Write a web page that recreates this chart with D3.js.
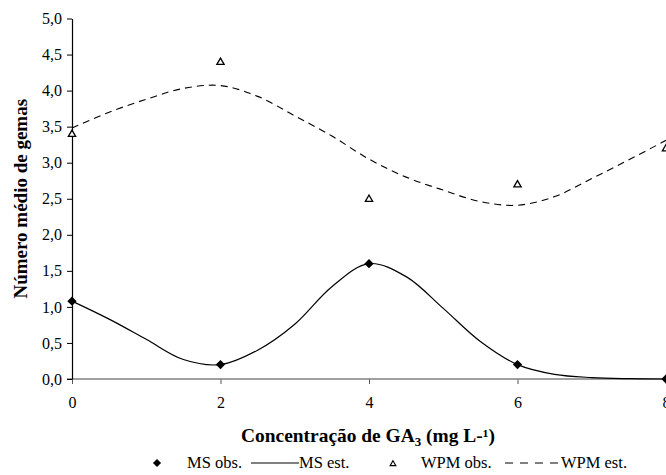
<!DOCTYPE html>
<html>
<head>
<meta charset="utf-8">
<script src="https://cdn.jsdelivr.net/npm/d3@7"></script>
<style>
  html, body { margin: 0; padding: 0; background: #fff; }
  svg text { font-family: "Liberation Serif", "Times New Roman", Times, serif; }
</style>
</head>
<body>
<svg id="chart" width="666" height="475"></svg>
<script>
// ---- data ----
const concentrations = [0, 2, 4, 6, 8];
const msObs = [1.08, 0.2, 1.6, 0.2, 0.0];
const wpmObs = [3.4, 4.4, 2.5, 2.7, 3.2];
const estX = [0, 0.5, 1, 1.5, 2, 2.5, 3, 3.5, 4, 4.5, 5, 5.5, 6, 6.5, 7, 7.5, 8];
const msEst = [1.08, 0.83, 0.55, 0.27, 0.2, 0.40, 0.76, 1.28, 1.6, 1.42, 0.98, 0.52, 0.2, 0.065, 0.02, 0.005, 0.0];
const wpmEst = [3.48, 3.70, 3.88, 4.03, 4.07, 3.92, 3.65, 3.37, 3.05, 2.80, 2.62, 2.46, 2.41, 2.53, 2.78, 3.04, 3.31];
const yTicks = [0, 0.5, 1, 1.5, 2, 2.5, 3, 3.5, 4, 4.5, 5];
const xTicks = [0, 2, 4, 6, 8];
const legendLabels = ["MS obs.", "MS est.", "WPM obs.", "WPM est."];

// ---- layout ----
const FONT = "'Liberation Serif', 'Times New Roman', Times, serif";
const svg = d3.select("#chart");
const x = d3.scaleLinear().domain([0, 8]).range([72, 666]);
const y = d3.scaleLinear().domain([0, 5]).range([379, 18.5]);
const fmt = d => d3.format(".1f")(d).replace(".", ",");

// x axis (gray line)
const xAxis = svg.append("g").attr("transform", `translate(0,${y(0)})`)
  .call(d3.axisBottom(x).tickValues(xTicks).tickSize(5).tickPadding(13).tickFormat(d3.format("d")));
xAxis.attr("font-family", null).attr("font-size", null);
xAxis.select(".domain").remove();
xAxis.append("line").attr("x1", 67).attr("x2", 666).attr("y1", 0).attr("y2", 0)
  .attr("stroke", "#808080").attr("stroke-width", 1.3);
xAxis.selectAll(".tick line").attr("stroke", "#555").attr("stroke-width", 1);
xAxis.selectAll(".tick text").attr("fill", "#000").style("font-size", "16px").style("font-family", FONT);

// y axis
const yAxis = svg.append("g").attr("transform", `translate(${x(0)},0)`)
  .call(d3.axisLeft(y).tickValues(yTicks).tickSize(5).tickPadding(5).tickSizeOuter(0).tickFormat(fmt));
yAxis.attr("font-family", null).attr("font-size", null);
yAxis.select(".domain").attr("stroke", "#000").attr("stroke-width", 1.2);
yAxis.selectAll(".tick line").attr("stroke", "#000");
yAxis.selectAll(".tick text").attr("fill", "#000").style("font-size", "16px").style("font-family", FONT);

// curves
const estData = estX.map((v, i) => ({x: v, ms: msEst[i], wpm: wpmEst[i]}));
const lineMs = d3.line().x(d => x(d.x)).y(d => y(d.ms)).curve(d3.curveCatmullRom.alpha(0.5));
const lineWpm = d3.line().x(d => x(d.x)).y(d => y(d.wpm)).curve(d3.curveCatmullRom.alpha(0.5));
svg.append("path").datum(estData).attr("d", lineWpm).attr("fill", "none")
  .attr("stroke", "#000").attr("stroke-width", 1.1).attr("stroke-dasharray", "7,5");
svg.append("path").datum(estData).attr("d", lineMs).attr("fill", "none")
  .attr("stroke", "#000").attr("stroke-width", 1.2);

// markers
const diamond = d3.symbol().type(d3.symbolDiamond2).size(55);
const tri = d3.symbol().type(d3.symbolTriangle2).size(38);
svg.append("g").selectAll("path").data(concentrations).join("path")
  .attr("transform", (d, i) => `translate(${x(d)},${y(msObs[i])})`)
  .attr("d", diamond).attr("fill", "#000");
svg.append("g").selectAll("path").data(concentrations).join("path")
  .attr("transform", (d, i) => `translate(${x(d)},${y(wpmObs[i]) + 0.5})`)
  .attr("d", tri).attr("fill", "#fff").attr("stroke", "#000").attr("stroke-width", 1.3);

// axis titles
svg.append("text").attr("transform", `translate(27,${(y(0) + y(5)) / 2}) rotate(-90)`)
  .attr("text-anchor", "middle").style("font-weight", "bold").style("font-size", "19px").style("font-family", FONT)
  .text("Número médio de gemas");
const xt = svg.append("text").attr("transform", "translate(368,442) scale(1.08,1)").attr("text-anchor", "middle")
  .style("font-weight", "bold").style("font-size", "18px").style("font-family", FONT);
xt.append("tspan").text("Concentração de GA");
xt.append("tspan").style("font-size", "12px").attr("dy", 4).text("3");
xt.append("tspan").attr("dy", -4).text(" (mg L-¹)");

// legend
const lg = svg.append("g");
const ly = 463;
const lt = (xx, s) => lg.append("text").attr("x", xx).attr("y", ly + 5).style("font-size", "16.5px").style("font-family", FONT).text(s);
lg.append("path").attr("transform", `translate(157,${ly})`).attr("d", d3.symbol().type(d3.symbolDiamond2).size(42)).attr("fill", "#000");
lt(187, legendLabels[0]);
lg.append("line").attr("x1", 251).attr("x2", 299).attr("y1", ly).attr("y2", ly).attr("stroke", "#000").attr("stroke-width", 1);
lt(299, legendLabels[1]);
lg.append("path").attr("transform", `translate(393,${ly + 1})`).attr("d", d3.symbol().type(d3.symbolTriangle2).size(24)).attr("fill", "#fff").attr("stroke", "#000").attr("stroke-width", 1.1);
lt(421, legendLabels[2]);
lg.append("line").attr("x1", 505).attr("x2", 560).attr("y1", ly).attr("y2", ly).attr("stroke", "#000").attr("stroke-width", 1).attr("stroke-dasharray", "8,7");
lt(561, legendLabels[3]);
</script>
</body>
</html>
